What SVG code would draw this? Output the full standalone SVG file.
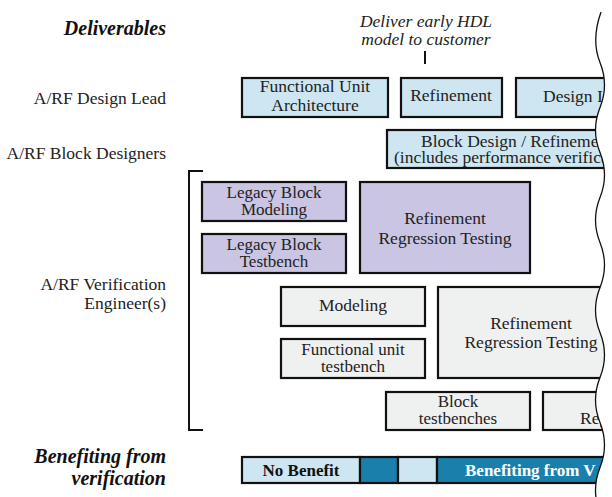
<svg xmlns="http://www.w3.org/2000/svg" width="612" height="497" viewBox="0 0 612 497">
<style>
text{font-family:"Liberation Serif","Times New Roman",serif;fill:#222;}
.lbl{font-size:17.5px;text-anchor:end;}
.hd{font-size:20px;font-weight:bold;font-style:italic;text-anchor:end;fill:#111;}
.bx{font-size:17.5px;text-anchor:middle;}
.bx2{font-size:17px;text-anchor:middle;}
.st{font-size:17.5px;text-anchor:start;}
.blue{fill:#cde6f1;stroke:#111;stroke-width:2.2;}
.purp{fill:#c9c5e3;stroke:#111;stroke-width:2.2;}
.grey{fill:#eff0f0;stroke:#111;stroke-width:2.2;}
.dark{fill:#1a7fab;stroke:#111;stroke-width:2.2;}
.wave{fill:none;stroke:#111;stroke-width:1.3;}
</style>
<defs>
<clipPath id="torn">
<path d="M0,0 L601,0 L601,12 Q591,40 600,62.5 T600,107.5 T600,152.5 T600,197.5 T600,242.5 T600,287.5 T600,332.5 T600,377.5 T600,422.5 T600,467.5 T600,512.5 L0,512.5 Z"/>
</clipPath>
</defs>
<rect width="612" height="497" fill="#fff"/>
<g id="labels">
<text class="hd" x="166" y="35">Deliverables</text>
<text class="lbl" x="166" y="104">A/RF Design Lead</text>
<text class="lbl" x="166" y="159">A/RF Block Designers</text>
<text class="lbl" x="166" y="290">A/RF Verification</text>
<text class="lbl" x="166" y="309">Engineer(s)</text>
<text class="hd" x="166" y="463">Benefiting from</text>
<text class="hd" x="166" y="485">verification</text>
</g>
<g id="deliverable">
<text x="426" y="27" style="font-size:17.5px;font-style:italic;text-anchor:middle">Deliver early HDL</text>
<text x="426" y="45" style="font-size:17.5px;font-style:italic;text-anchor:middle">model to customer</text>
</g>
<g id="connectors">
<line x1="425" y1="51" x2="425" y2="64" stroke="#111" stroke-width="2"/>
<path d="M203,171 H189 V430 H203" fill="none" stroke="#111" stroke-width="2"/>
</g>
<g clip-path="url(#torn)">
<g id="fua"><rect class="blue" x="242" y="78" width="146" height="39"/>
<text class="bx" x="315" y="92">Functional Unit</text><text class="bx" x="315" y="111">Architecture</text></g>
<g id="refine1"><rect class="blue" x="401" y="78" width="101" height="39"/>
<text class="bx" x="451" y="101">Refinement</text></g>
<g id="design"><rect class="blue" x="516" y="78" width="110" height="39"/>
<text class="st" x="543" y="102">Design I</text></g>
<g id="blockdesign"><rect class="blue" x="387" y="130" width="240" height="38"/>
<text class="st" x="421" y="147">Block Design / Refineme</text>
<text class="st" x="394" y="163">(includes performance verifica</text></g>
<g id="legacymodel"><rect class="purp" x="202" y="182" width="144" height="39"/>
<text class="bx2" x="274" y="197.5">Legacy Block</text><text class="bx2" x="274" y="214.5">Modeling</text></g>
<g id="legacytb"><rect class="purp" x="202" y="234" width="144" height="39"/>
<text class="bx2" x="274" y="249.5">Legacy Block</text><text class="bx2" x="274" y="266.5">Testbench</text></g>
<g id="rrt1"><rect class="purp" x="360" y="182" width="170" height="91"/>
<text class="bx" x="445" y="224">Refinement</text><text class="bx" x="445" y="244">Regression Testing</text></g>
<g id="modeling"><rect class="grey" x="281" y="287" width="144" height="39"/>
<text class="bx" x="353" y="311">Modeling</text></g>
<g id="futb"><rect class="grey" x="281" y="339" width="144" height="39"/>
<text class="bx2" x="353" y="354.5">Functional unit</text><text class="bx2" x="353" y="371.5">testbench</text></g>
<g id="rrt2"><rect class="grey" x="438" y="287" width="190" height="91"/>
<text class="bx" x="531" y="329">Refinement</text><text class="bx" x="531" y="348">Regression Testing</text></g>
<g id="blocktb"><rect class="grey" x="386" y="392" width="144" height="38"/>
<text class="bx2" x="458" y="406.5">Block</text><text class="bx2" x="458" y="424">testbenches</text></g>
<g id="reg"><rect class="grey" x="543" y="392" width="85" height="38"/>
<text class="st" x="580" y="424">Reg</text></g>
<g id="benefit">
<rect class="blue" x="242" y="457" width="118" height="26"/>
<rect class="dark" x="360" y="457" width="38" height="26"/>
<rect class="blue" x="398" y="457" width="39" height="26"/>
<rect class="dark" x="437" y="457" width="190" height="26"/>
<text x="301" y="476" style="font-size:17px;font-weight:bold;text-anchor:middle;fill:#111">No Benefit</text>
<text x="465" y="476" style="font-size:17px;font-weight:bold;text-anchor:start;fill:#fff">Benefiting from V</text>
</g>
</g>
<path class="wave" d="M601,12 Q591,40 600,62.5 T600,107.5 T600,152.5 T600,197.5 T600,242.5 T600,287.5 T600,332.5 T600,377.5 T600,422.5 T600,467.5 T600,512.5"/>
</svg>
